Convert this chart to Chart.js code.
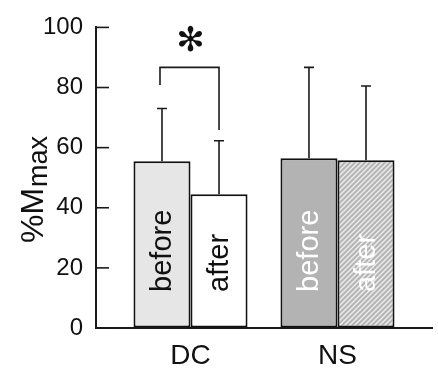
<!DOCTYPE html>
<html lang="en">
<head>
    <meta charset="UTF-8">
    <title>%Mmax before / after</title>
    <script src="https://cdn.jsdelivr.net/npm/chart.js"></script>
    <style>
        html, body { margin: 0; padding: 0; background: #fff; }
        #wrap { width: 438px; height: 369px; }
    </style>
</head>
<body>
    <div id="wrap"><canvas id="mmaxChart" width="438" height="369"></canvas></div>

    <script>
        // data
        const categories = ['DC', 'NS'];
        const seriesNames = ['before', 'after'];
        const beforeMeans = [55.5, 56.5];
        const beforeSD = [17.5, 30.2];
        const afterMeans = [44.5, 55.8];
        const afterSD = [17.8, 24.7];
        const yTicks = [0, 20, 40, 60, 80, 100];
        // significance bracket for DC (top, left leg end, right leg end)
        const bracketTop = 86.7;
        const bracketLegs = [80.8, 65.9];
        const starLevel = 95;

        const ink = '#1a1a1a';

        // hatched fill for NS "after"
        function makeHatch() {
            const c = document.createElement('canvas');
            c.width = 5; c.height = 5;
            const g = c.getContext('2d');
            g.fillStyle = '#b5b5b5';
            g.fillRect(0, 0, 5, 5);
            g.strokeStyle = '#eeeeee';
            g.lineWidth = 1.4;
            g.beginPath();
            g.moveTo(-1, 6); g.lineTo(6, -1);
            g.moveTo(-3.5, 3.5); g.lineTo(3.5, -3.5);
            g.moveTo(1.5, 8.5); g.lineTo(8.5, 1.5);
            g.stroke();
            return g.createPattern(c, 'repeat');
        }
        const hatch = makeHatch();

        const means = [beforeMeans, afterMeans];
        const sds = [beforeSD, afterSD];

        const extras = {
            id: 'extras',
            afterDatasetsDraw(chart) {
                const ctx = chart.ctx;
                const y = chart.scales.y;
                ctx.save();
                // error bars
                ctx.strokeStyle = ink;
                ctx.lineWidth = 1.6;
                for (let d = 0; d < 2; d++) {
                    const meta = chart.getDatasetMeta(d);
                    meta.data.forEach((bar, i) => {
                        const top = y.getPixelForValue(means[d][i] + sds[d][i]);
                        ctx.beginPath();
                        ctx.moveTo(bar.x, bar.y);
                        ctx.lineTo(bar.x, top);
                        ctx.moveTo(bar.x - 5, top);
                        ctx.lineTo(bar.x + 5, top);
                        ctx.stroke();
                    });
                }
                // rotated labels inside bars
                ctx.font = '29px "Liberation Sans", Arial, sans-serif';
                ctx.textAlign = 'left';
                ctx.textBaseline = 'middle';
                for (let d = 0; d < 2; d++) {
                    const meta = chart.getDatasetMeta(d);
                    meta.data.forEach((bar, i) => {
                        ctx.save();
                        ctx.translate(bar.x + 1, y.getPixelForValue(12));
                        ctx.rotate(-Math.PI / 2);
                        ctx.fillStyle = i === 0 ? '#111' : '#fff';
                        ctx.fillText(seriesNames[d], 0, 0);
                        ctx.restore();
                    });
                }
                ctx.restore();
            },
            afterDraw(chart) {
                const ctx = chart.ctx;
                const y = chart.scales.y;
                const area = chart.chartArea;
                ctx.save();
                // inward tick marks on the y axis
                ctx.strokeStyle = ink;
                ctx.lineWidth = 1.6;
                yTicks.forEach(v => {
                    const py = y.getPixelForValue(v);
                    ctx.beginPath();
                    ctx.moveTo(area.left, py);
                    ctx.lineTo(area.left + 13, py);
                    ctx.stroke();
                });
                // bracket between DC before / after
                const b0 = chart.getDatasetMeta(0).data[0];
                const b1 = chart.getDatasetMeta(1).data[0];
                const topY = y.getPixelForValue(bracketTop);
                ctx.beginPath();
                ctx.moveTo(b0.x - 2, y.getPixelForValue(bracketLegs[0]));
                ctx.lineTo(b0.x - 2, topY);
                ctx.lineTo(b1.x, topY);
                ctx.lineTo(b1.x, y.getPixelForValue(bracketLegs[1]));
                ctx.stroke();
                // asterisk
                ctx.fillStyle = '#111';
                ctx.font = '34px "DejaVu Sans", sans-serif';
                ctx.textAlign = 'center';
                ctx.textBaseline = 'middle';
                ctx.fillText('\u273B', (b0.x + b1.x) / 2, y.getPixelForValue(starLevel));
                // y title: %M with subscript max
                ctx.save();
                ctx.translate(43, 243);
                ctx.rotate(-Math.PI / 2);
                ctx.textAlign = 'left';
                ctx.textBaseline = 'alphabetic';
                ctx.font = '32px "Liberation Sans", Arial, sans-serif';
                ctx.fillText('%M', 0, 0);
                const w = ctx.measureText('%M').width;
                ctx.font = '27px "Liberation Sans", Arial, sans-serif';
                ctx.fillText('max', w + 1, 4);
                ctx.restore();
                ctx.restore();
            }
        };

        const ctx = document.getElementById('mmaxChart').getContext('2d');
        const mmaxChart = new Chart(ctx, {
            type: 'bar',
            data: {
                datasets: [{
                    label: seriesNames[0],
                    data: categories.map((c, i) => ({ x: i, y: beforeMeans[i] })),
                    backgroundColor: ['#e6e6e6', '#b3b3b3'],
                    borderColor: '#111',
                    borderWidth: 2,
                    borderSkipped: false
                }, {
                    label: seriesNames[1],
                    data: categories.map((c, i) => ({ x: i, y: afterMeans[i] })),
                    backgroundColor: ['#ffffff', hatch],
                    borderColor: '#111',
                    borderWidth: 2,
                    borderSkipped: false
                }]
            },
            options: {
                responsive: false,
                animation: false,
                devicePixelRatio: 1,
                layout: { padding: { top: 20, right: 6, left: 0, bottom: 0 } },
                datasets: { bar: { categoryPercentage: 0.776, barPercentage: 1 } },
                plugins: { legend: { display: false }, tooltip: { enabled: false } },
                scales: {
                    x: {
                        type: 'linear',
                        offset: false,
                        min: -0.643,
                        max: 1.643,
                        afterBuildTicks: s => { s.ticks = categories.map((c, i) => ({ value: i })); },
                        afterFit: s => { s.height = 41; },
                        grid: { display: false, offset: false },
                        border: { color: ink, width: 2 },
                        ticks: {
                            callback: v => categories[v] ?? '',
                            color: '#111',
                            padding: 3,
                            font: { family: '"Liberation Sans", Arial, sans-serif', size: 28 }
                        }
                    },
                    y: {
                        min: 0,
                        max: 100,
                        afterBuildTicks: s => { s.ticks = yTicks.map(v => ({ value: v })); },
                        afterFit: s => { s.width = 96; },
                        grid: { drawOnChartArea: false, drawTicks: false },
                        border: { color: ink, width: 2 },
                        ticks: {
                            color: '#111',
                            padding: 13,
                            font: { family: '"Liberation Sans", Arial, sans-serif', size: 24 }
                        }
                    }
                }
            },
            plugins: [extras]
        });
    </script>
</body>
</html>
